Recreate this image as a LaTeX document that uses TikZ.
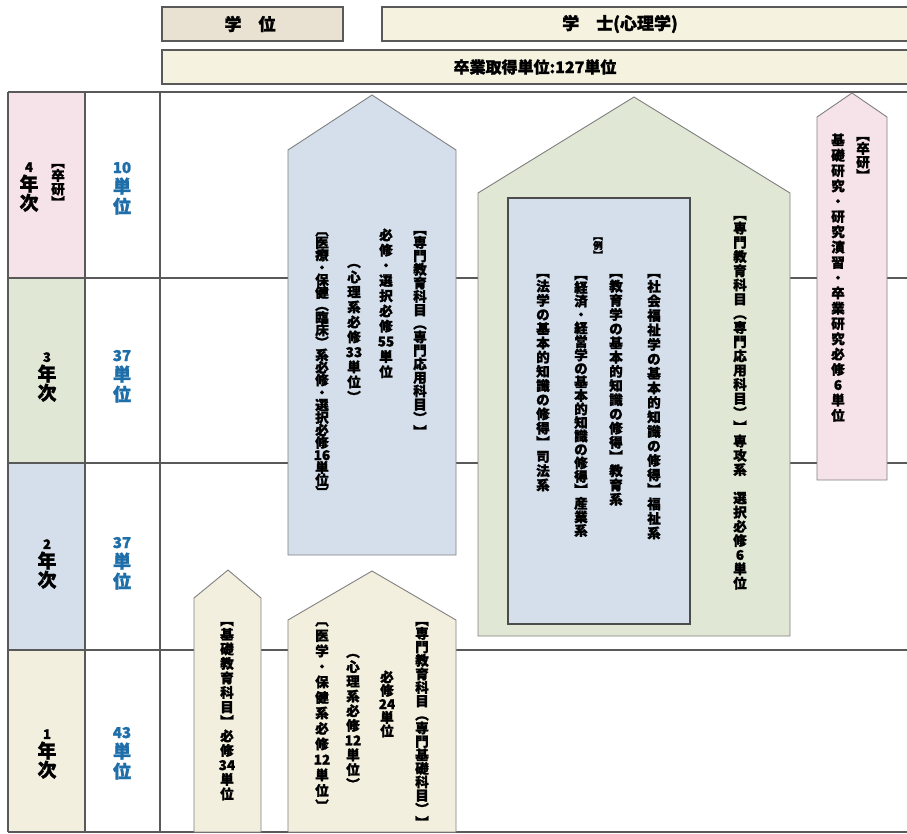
\documentclass[tikz,border=0pt]{standalone}
\usepackage{fontspec}
\setmainfont{Noto Sans CJK JP}[BoldFeatures={FakeBold=1.5}]
\definecolor{pinkF}{RGB}{246,226,233}
\definecolor{greenF}{RGB}{224,231,212}
\definecolor{blueF}{RGB}{212,223,235}
\definecolor{creamF}{RGB}{243,239,222}
\definecolor{tanF}{RGB}{233,226,210}
\definecolor{headF}{RGB}{246,242,224}
\definecolor{unitB}{RGB}{30,110,170}
\ExplSyntaxOn
\NewDocumentCommand\vt{O{0pt}m}{
  \vbox{\offinterlineskip
    \tl_map_inline:nn {#2}
      { \hbox_to_wd:nn {1em} { \hss \vrule height .88em depth .12em width 0pt \hbox{##1} \hss } \kern#1 }
  }
}
\ExplSyntaxOff
\tikzset{
  grid/.style={draw=black!65, line width=1.1pt},
  pent/.style={draw=black!50, line width=0.9pt},
  headbox/.style={draw=black!65, line width=1.4pt},
  vtx/.style={inner sep=0pt, anchor=north, font=\bfseries\fontsize{13.5}{13.5}\selectfont},
  yearlbl/.style={inner sep=0pt, anchor=north, font=\bfseries\fontsize{19}{19}\selectfont},
  unitlbl/.style={inner sep=0pt, anchor=north, text=unitB, font=\bfseries\fontsize{18}{18}\selectfont},
  headtx/.style={inner sep=0pt, font=\bfseries\fontsize{17}{17}\selectfont}
}
\begin{document}
\begin{tikzpicture}[x=1pt,y=-1pt]
\useasboundingbox (0,0) rectangle (907,833);
% header
\draw[headbox, fill=tanF] (162,7) rectangle (343,41);
\draw[headbox, fill=headF] (382,7) rectangle (912,41);
\draw[headbox, fill=headF] (162,50) rectangle (912,84);
\node[headtx] (hgakui) at (250,24) {学　位};
\node[headtx] (hgakushi) at (620,24) {学　士(心理学)};
\node[headtx, font=\bfseries\fontsize{16}{16}\selectfont] (htotal) at (535,67) {卒業取得単位:127単位};
% year cells
\fill[pinkF] (8,92) rectangle (85,278);
\fill[greenF] (8,278) rectangle (85,463);
\fill[blueF] (8,463) rectangle (85,650);
\fill[creamF] (8,650) rectangle (85,832);
% grid
\draw[grid] (8,92) -- (907,92);
\draw[grid] (8,278) -- (907,278);
\draw[grid] (8,463) -- (907,463);
\draw[grid] (8,650) -- (907,650);
\draw[grid] (8,832) -- (907,832);
\draw[grid] (8,92) -- (8,832);
\draw[grid] (85,92) -- (85,832);
\draw[grid] (160,92) -- (160,832);
% year labels
\node[yearlbl] (y4) at (29,155) {\vt{{\fontsize{13}{13}\selectfont 4}年次}};
\node[vtx] (y4b) at (58,155) {\vt{︻卒研︼}};
\node[yearlbl] (y3) at (47,345) {\vt{{\fontsize{13}{13}\selectfont 3}年次}};
\node[yearlbl] (y2) at (47,532) {\vt{{\fontsize{13}{13}\selectfont 2}年次}};
\node[yearlbl] (y1) at (47,722) {\vt{{\fontsize{13}{13}\selectfont 1}年次}};
% units
\node[unitlbl] (u4) at (122,157) {\vt[2pt]{{\fontsize{15}{15}\selectfont 10}単位}};
\node[unitlbl] (u3) at (122,345) {\vt[2pt]{{\fontsize{15}{15}\selectfont 37}単位}};
\node[unitlbl] (u2) at (122,532) {\vt[2pt]{{\fontsize{15}{15}\selectfont 37}単位}};
\node[unitlbl] (u1) at (122,722) {\vt[2pt]{{\fontsize{15}{15}\selectfont 43}単位}};
% pentagons
\draw[pent, fill=blueF] (288,555) -- (288,150) -- (372,95) -- (456,150) -- (456,555) -- cycle;
\draw[pent, fill=greenF] (478,636) -- (478,193) -- (634,97) -- (790,193) -- (790,636) -- cycle;
\draw[draw=black!70, line width=1.4pt, fill=blueF] (508,198) rectangle (690,624);
\draw[pent, fill=pinkF] (817,480) -- (817,117) -- (852,93) -- (887,117) -- (887,480) -- cycle;
\draw[pent, fill=creamF] (194,832) -- (194,598) -- (228,570) -- (261,598) -- (261,832) -- cycle;
\draw[pent, fill=creamF] (288,832) -- (288,620) -- (372,571) -- (456,620) -- (456,832) -- cycle;
% blue pentagon text
\node[vtx] (b1) at (420,222) {\vt{︻専門教育科目︵専門応用科目︶︼}};
\node[vtx] (b2) at (386,228) {\vt[1.7pt]{必修・選択必修{55}単位}};
\node[vtx] (b3) at (354,255) {\vt[1.5pt]{︵心理系必修{33}単位︶}};
\node[vtx] (b4) at (322,223) {\vt[-1pt]{︹医療・保健︵臨床︶系必修・選択必修{16}単位︺}};
% green pentagon text
\node[vtx] (g1) at (740,207) {\vt[0.7pt]{︻専門教育科目︵専門応用科目︶︼専攻系　選択必修{6}単位}};
% inner box text
\node[vtx] (i1) at (654,265) {\vt[1pt]{︻社会福祉学の基本的知識の修得︼福祉系}};
\node[vtx] (i2) at (616,265) {\vt[0.7pt]{︻教育学の基本的知識の修得︼教育系}};
\node[vtx, font=\bfseries\fontsize{9.5}{9.5}\selectfont] (ie) at (598,231) {\vt{︻例︼}};
\node[vtx] (i3) at (581,267) {\vt{︻経済・経営学の基本的知識の修得︼産業系}};
\node[vtx] (i4) at (543,265) {\vt[0.7pt]{︻法学の基本的知識の修得︼司法系}};
% pink pentagon text
\node[vtx] (p1) at (863,128) {\vt{︻卒研︼}};
\node[vtx] (p2) at (838,133) {\vt[1.8pt]{基礎研究・研究演習・卒業研究必修{6}単位}};
% small cream pentagon text
\node[vtx] (s1) at (227,613) {\vt[1pt]{︻基礎教育科目︼必修{34}単位}};
% cream pentagon text
\node[vtx] (c1) at (422,613) {\vt{︻専門教育科目︵専門基礎科目︶︼}};
\node[vtx] (c2) at (387,670) {\vt{必修{24}単位}};
\node[vtx] (c3) at (353,645) {\vt[1.2pt]{︵心理系必修{12}単位︶}};
\node[vtx] (c4) at (322,613) {\vt[2pt]{︹医学・保健系必修{12}単位︺}};
\end{tikzpicture}
\end{document}
